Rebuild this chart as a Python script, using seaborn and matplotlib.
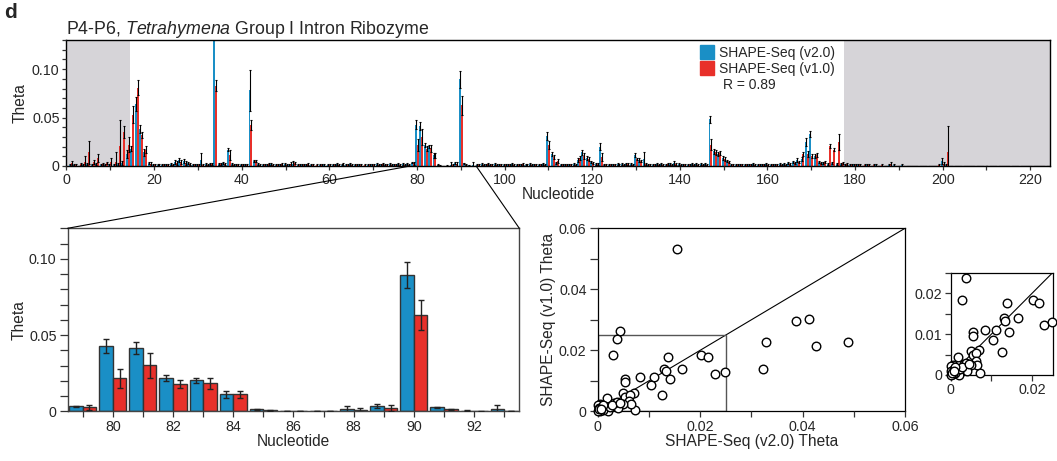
import numpy as np
import pandas as pd
import matplotlib
matplotlib.use("Agg")
import matplotlib.pyplot as plt
import seaborn as sns
from matplotlib.patches import ConnectionPatch, Rectangle
from matplotlib.lines import Line2D
from matplotlib.ticker import MultipleLocator, FuncFormatter

# ---------------- data ----------------
nucleotides = list(range(1, 225))

theta_v2 = [
    0.001, 0.001, 0.000, 0.001, 0.002, 0.001, 0.002, 0.001, 0.001, 0.001,
    0.001, 0.002, 0.003, 0.012, 0.018, 0.064, 0.038, 0.014, 0.003, 0.001,
    0.001, 0.001, 0.001, 0.002, 0.004, 0.006, 0.005, 0.003, 0.001, 0.001,
    0.006, 0.002, 0.002, 0.140, 0.002, 0.003, 0.017, 0.002, 0.001, 0.001,
    0.001, 0.078, 0.005, 0.002, 0.001, 0.001, 0.002, 0.001, 0.001, 0.002,
    0.001, 0.002, 0.001, 0.001, 0.001, 0.001, 0.000, 0.001, 0.001, 0.001,
    0.001, 0.002, 0.001, 0.001, 0.002, 0.001, 0.001, 0.000, 0.001, 0.001,
    0.002, 0.001, 0.001, 0.002, 0.001, 0.002, 0.002, 0.002, 0.0033, 0.0428,
    0.0415, 0.0216, 0.0203, 0.0111, 0.0013, 0.0, 0.0003, 0.0013, 0.0033, 0.0895,
    0.0026, 0.0005, 0.0015, 0.001, 0.002, 0.001, 0.001, 0.002, 0.001, 0.001,
    0.001, 0.002, 0.001, 0.001, 0.001, 0.002, 0.001, 0.001, 0.002, 0.031,
    0.012, 0.003, 0.001, 0.001, 0.001, 0.002, 0.006, 0.014, 0.008, 0.004,
    0.002, 0.020, 0.001, 0.001, 0.001, 0.002, 0.002, 0.002, 0.002, 0.011,
    0.006, 0.007, 0.001, 0.001, 0.002, 0.002, 0.001, 0.002, 0.003, 0.002,
    0.001, 0.001, 0.002, 0.002, 0.002, 0.002, 0.048, 0.015, 0.012, 0.008,
    0.005, 0.001, 0.001, 0.001, 0.001, 0.001, 0.002, 0.001, 0.001, 0.002,
    0.001, 0.001, 0.002, 0.002, 0.003, 0.004, 0.006, 0.007, 0.025, 0.033,
    0.010, 0.004, 0.003, 0.002, 0.003, 0.002, 0.002, 0.001, 0.001, 0.001,
    0.001, 0.000, 0.001, 0.000, 0.001, 0.000, 0.000, 0.001, 0.001, 0.000,
    0.001, 0.000, 0.000, 0.000, 0.000, 0.000, 0.000, 0.000, 0.000, 0.005,
    0.001, 0.000, 0.000, 0.000, 0.000, 0.000, 0.000, 0.000, 0.000, 0.000,
    0.000, 0.000, 0.000, 0.000, 0.000, 0.000, 0.000, 0.000, 0.000, 0.000,
    0.000, 0.000, 0.000, 0.000,
]

theta_v1 = [
    0.003, 0.001, 0.002, 0.004, 0.014, 0.004, 0.008, 0.002, 0.003, 0.004,
    0.004, 0.021, 0.035, 0.022, 0.053, 0.081, 0.032, 0.017, 0.002, 0.001,
    0.001, 0.001, 0.001, 0.001, 0.003, 0.004, 0.003, 0.002, 0.001, 0.001,
    0.001, 0.001, 0.002, 0.083, 0.002, 0.002, 0.011, 0.001, 0.001, 0.001,
    0.001, 0.042, 0.005, 0.001, 0.001, 0.002, 0.001, 0.001, 0.002, 0.001,
    0.002, 0.003, 0.001, 0.001, 0.002, 0.001, 0.001, 0.001, 0.000, 0.001,
    0.001, 0.001, 0.002, 0.001, 0.001, 0.001, 0.001, 0.001, 0.001, 0.001,
    0.001, 0.002, 0.001, 0.001, 0.001, 0.001, 0.001, 0.001, 0.0026, 0.0216,
    0.0301, 0.0177, 0.0183, 0.0111, 0.0007, 0.0, 0.0, 0.0007, 0.0022, 0.0629,
    0.0013, 0.0, 0.0, 0.001, 0.001, 0.002, 0.001, 0.001, 0.001, 0.001,
    0.001, 0.001, 0.001, 0.002, 0.001, 0.001, 0.001, 0.001, 0.001, 0.022,
    0.009, 0.005, 0.001, 0.001, 0.001, 0.001, 0.008, 0.010, 0.007, 0.003,
    0.002, 0.009, 0.001, 0.001, 0.001, 0.001, 0.001, 0.002, 0.001, 0.007,
    0.005, 0.002, 0.001, 0.001, 0.001, 0.001, 0.002, 0.001, 0.002, 0.001,
    0.001, 0.001, 0.001, 0.001, 0.001, 0.001, 0.022, 0.014, 0.013, 0.007,
    0.004, 0.001, 0.001, 0.001, 0.001, 0.001, 0.001, 0.001, 0.001, 0.001,
    0.001, 0.001, 0.001, 0.001, 0.002, 0.003, 0.004, 0.012, 0.012, 0.010,
    0.011, 0.003, 0.004, 0.021, 0.017, 0.025, 0.003, 0.002, 0.001, 0.001,
    0.001, 0.001, 0.001, 0.001, 0.000, 0.001, 0.000, 0.002, 0.000, 0.000,
    0.000, 0.000, 0.000, 0.000, 0.000, 0.000, 0.000, 0.000, 0.001, 0.002,
    0.014, 0.000, 0.000, 0.000, 0.000, 0.000, 0.000, 0.000, 0.000, 0.000,
    0.000, 0.000, 0.000, 0.000, 0.000, 0.000, 0.000, 0.000, 0.000, 0.000,
    0.000, 0.000, 0.000, 0.000,
]

err_v2 = [
    0.001, 0.001, 0.000, 0.001, 0.001, 0.001, 0.001, 0.001, 0.001, 0.001,
    0.001, 0.001, 0.002, 0.004, 0.003, 0.007, 0.004, 0.004, 0.001, 0.001,
    0.001, 0.001, 0.001, 0.001, 0.002, 0.002, 0.002, 0.001, 0.001, 0.001,
    0.007, 0.001, 0.001, 0.010, 0.001, 0.001, 0.002, 0.001, 0.001, 0.001,
    0.001, 0.021, 0.001, 0.001, 0.001, 0.001, 0.001, 0.001, 0.001, 0.001,
    0.001, 0.003, 0.001, 0.001, 0.001, 0.001, 0.000, 0.001, 0.001, 0.001,
    0.001, 0.001, 0.001, 0.001, 0.001, 0.001, 0.001, 0.000, 0.001, 0.001,
    0.001, 0.001, 0.001, 0.001, 0.001, 0.001, 0.001, 0.001, 0.0005, 0.0048,
    0.0040, 0.0020, 0.0016, 0.0024, 0.0004, 0.0, 0.0002, 0.0024, 0.0013, 0.0087,
    0.0004, 0.0003, 0.0026, 0.001, 0.001, 0.001, 0.001, 0.001, 0.001, 0.001,
    0.001, 0.001, 0.001, 0.001, 0.001, 0.001, 0.001, 0.001, 0.001, 0.004,
    0.002, 0.001, 0.001, 0.001, 0.001, 0.001, 0.002, 0.003, 0.002, 0.001,
    0.001, 0.004, 0.001, 0.001, 0.001, 0.001, 0.001, 0.001, 0.001, 0.002,
    0.002, 0.007, 0.001, 0.001, 0.001, 0.001, 0.001, 0.001, 0.002, 0.001,
    0.001, 0.001, 0.001, 0.001, 0.001, 0.001, 0.004, 0.003, 0.002, 0.002,
    0.001, 0.001, 0.001, 0.001, 0.001, 0.001, 0.001, 0.001, 0.001, 0.001,
    0.001, 0.001, 0.001, 0.001, 0.001, 0.001, 0.002, 0.002, 0.004, 0.003,
    0.002, 0.001, 0.001, 0.001, 0.001, 0.001, 0.001, 0.001, 0.001, 0.001,
    0.001, 0.000, 0.001, 0.000, 0.001, 0.000, 0.000, 0.001, 0.001, 0.000,
    0.001, 0.000, 0.000, 0.000, 0.000, 0.000, 0.000, 0.000, 0.000, 0.003,
    0.001, 0.000, 0.000, 0.000, 0.000, 0.000, 0.000, 0.000, 0.000, 0.000,
    0.000, 0.000, 0.000, 0.000, 0.000, 0.000, 0.000, 0.000, 0.000, 0.000,
    0.000, 0.000, 0.000, 0.000,
]

err_v1 = [
    0.002, 0.001, 0.001, 0.006, 0.012, 0.002, 0.004, 0.001, 0.001, 0.004,
    0.010, 0.026, 0.006, 0.008, 0.009, 0.008, 0.003, 0.004, 0.002, 0.001,
    0.001, 0.001, 0.001, 0.001, 0.002, 0.002, 0.002, 0.001, 0.001, 0.001,
    0.001, 0.001, 0.001, 0.006, 0.001, 0.001, 0.005, 0.001, 0.001, 0.001,
    0.001, 0.005, 0.001, 0.001, 0.001, 0.001, 0.001, 0.001, 0.001, 0.001,
    0.002, 0.001, 0.001, 0.001, 0.001, 0.001, 0.001, 0.001, 0.000, 0.001,
    0.001, 0.001, 0.001, 0.001, 0.001, 0.001, 0.001, 0.001, 0.001, 0.001,
    0.001, 0.001, 0.001, 0.001, 0.001, 0.001, 0.001, 0.001, 0.0015, 0.0062,
    0.0080, 0.0027, 0.0036, 0.0024, 0.0004, 0.0, 0.0, 0.0013, 0.0018, 0.0098,
    0.0003, 0.0003, 0.0, 0.001, 0.001, 0.001, 0.001, 0.001, 0.001, 0.001,
    0.001, 0.001, 0.001, 0.001, 0.001, 0.001, 0.001, 0.001, 0.001, 0.004,
    0.002, 0.002, 0.001, 0.001, 0.001, 0.001, 0.002, 0.003, 0.002, 0.001,
    0.001, 0.004, 0.001, 0.001, 0.001, 0.001, 0.001, 0.001, 0.001, 0.001,
    0.001, 0.001, 0.001, 0.001, 0.001, 0.001, 0.001, 0.001, 0.001, 0.001,
    0.001, 0.001, 0.001, 0.001, 0.001, 0.001, 0.006, 0.003, 0.002, 0.002,
    0.001, 0.001, 0.001, 0.001, 0.001, 0.001, 0.001, 0.001, 0.001, 0.001,
    0.001, 0.001, 0.001, 0.001, 0.001, 0.001, 0.001, 0.002, 0.003, 0.002,
    0.002, 0.001, 0.001, 0.002, 0.002, 0.008, 0.001, 0.001, 0.001, 0.001,
    0.001, 0.001, 0.001, 0.001, 0.000, 0.001, 0.000, 0.002, 0.000, 0.000,
    0.000, 0.000, 0.000, 0.000, 0.000, 0.000, 0.000, 0.000, 0.001, 0.002,
    0.027, 0.000, 0.000, 0.000, 0.000, 0.000, 0.000, 0.000, 0.000, 0.000,
    0.000, 0.000, 0.000, 0.000, 0.000, 0.000, 0.000, 0.000, 0.000, 0.000,
    0.000, 0.000, 0.000, 0.000,
]

# scatter: SHAPE-Seq v2.0 theta (x) vs v1.0 theta (y)
scatter_v2 = [0.0155, 0.0044, 0.0038, 0.0029, 0.0137, 0.0201, 0.0216, 0.0130,
              0.0133, 0.0165, 0.0229, 0.0249, 0.0142, 0.0083, 0.0110, 0.0104,
              0.0054, 0.0054, 0.0126, 0.0388, 0.0413, 0.0426, 0.0328, 0.0489,
              0.0323, 0.0018, 0.0070, 0.0050, 0.0054, 0.0063, 0.0062, 0.0072,
              0.0064, 0.0049, 0.0040, 0.0032, 0.0038, 0.0021, 0.0016, 0.0010,
              0.0005, 0.0001, 0.0002, 0.0005, 0.0009, 0.0023, 0.0027, 0.0044,
              0.0001, 0.0011, 0.0003, 0.0007]
scatter_v1 = [0.0533, 0.0263, 0.0236, 0.0183, 0.0177, 0.0183, 0.0177, 0.0138,
              0.0133, 0.0140, 0.0121, 0.0129, 0.0105, 0.0111, 0.0111, 0.0086,
              0.0105, 0.0095, 0.0055, 0.0295, 0.0301, 0.0215, 0.0226, 0.0226,
              0.0140, 0.0045, 0.0061, 0.0059, 0.0048, 0.0054, 0.0033, 0.0005,
              0.0024, 0.0024, 0.0010, 0.0026, 0.0030, 0.0001, 0.0013, 0.0004,
              0.0024, 0.0021, 0.0010, 0.0002, 0.0015, 0.0015, 0.0020, 0.0028,
              0.0000, 0.0020, 0.0006, 0.0009]

series_labels = ["SHAPE-Seq (v2.0)", "SHAPE-Seq (v1.0)"]
correlation_text = "R = 0.89"
zoom_range = (78.5, 93.5)
scatter_box = 0.025
unprobed_left = (0, 14.5)
unprobed_right = (177.5, 224.5)

# ---------------- style ----------------
sns.set_style("ticks")
plt.rcParams["font.family"] = ["Liberation Sans", "DejaVu Sans"]
plt.rcParams["mathtext.fontset"] = "custom"
plt.rcParams["mathtext.rm"] = "Liberation Sans"
plt.rcParams["mathtext.it"] = "Liberation Sans:italic"
plt.rcParams["axes.linewidth"] = 1.0

BLUE = "#1a8fc6"
RED = "#e8302a"
GRAY_BG = "#d6d4d8"
palette = {series_labels[0]: BLUE, series_labels[1]: RED}

TICK_FS = 10.3
LABEL_FS = 11.2

df = pd.DataFrame({
    "nt": nucleotides * 2,
    "theta": theta_v2 + theta_v1,
    "err": err_v2 + err_v1,
    "series": [series_labels[0]] * len(nucleotides) + [series_labels[1]] * len(nucleotides),
})

BAR_W = 0.9

def fmt_theta(v, pos):
    return "0" if abs(v) < 1e-12 else f"{v:.2f}"

fig = plt.figure(figsize=(10.57, 4.61), dpi=100)
ax_top = fig.add_axes([0.0629, 0.640, 0.9305, 0.273])
ax_bar = fig.add_axes([0.064, 0.1078, 0.4273, 0.397])
ax_sc = fig.add_axes([0.5655, 0.1078, 0.2907, 0.397])
ax_in = fig.add_axes([0.8994, 0.1866, 0.0965, 0.222])


def draw_bars(ax, data, edge, lw, elw, cap, ecolor):
    sns.barplot(data=data, x="nt", y="theta", hue="series",
                hue_order=series_labels, palette=palette, native_scale=True,
                width=BAR_W, errorbar=None, ax=ax, legend=False,
                edgecolor=edge, linewidth=lw, saturation=1)
    for i, lab in enumerate(series_labels):
        sub = data[data["series"] == lab]
        off = (i - 0.5) * BAR_W / 2
        ax.errorbar(sub["nt"] + off, sub["theta"], yerr=sub["err"], fmt="none",
                    ecolor=ecolor, elinewidth=elw, capsize=cap, capthick=elw,
                    zorder=5)


# ---- top panel ----
ax_top.axvspan(*unprobed_left, color=GRAY_BG, lw=0, zorder=0)
ax_top.axvspan(*unprobed_right, color=GRAY_BG, lw=0, zorder=0)
draw_bars(ax_top, df, "none", 0, 0.8, 0.8, "black")
ax_top.set_xlim(0, 224.5)
ax_top.set_ylim(0, 0.13)
ax_top.xaxis.set_major_locator(MultipleLocator(20))
ax_top.xaxis.set_minor_locator(MultipleLocator(10))
ax_top.yaxis.set_major_locator(MultipleLocator(0.05))
ax_top.yaxis.set_minor_locator(MultipleLocator(0.01))
ax_top.yaxis.set_major_formatter(FuncFormatter(fmt_theta))
ax_top.xaxis.set_major_formatter(FuncFormatter(lambda v, p: f"{int(v)}"))
ax_top.set_xlabel("Nucleotide", fontsize=LABEL_FS, labelpad=0)
ax_top.set_ylabel("Theta", fontsize=LABEL_FS, labelpad=3)
ax_top.set_title("P4-P6, $\\mathit{Tetrahymena}$ Group I Intron Ribozyme",
                 loc="left", fontsize=12.8, pad=3)
handles = [Line2D([0], [0], marker="s", color="none", markerfacecolor=c,
                  markeredgecolor=c, markersize=10) for c in (BLUE, RED)]
leg = ax_top.legend(handles, series_labels, loc="upper left",
                    bbox_to_anchor=(0.634, 1.03), frameon=False, fontsize=10,
                    handlelength=1.0, handletextpad=0.4, labelspacing=0.15,
                    borderpad=0.2)
ax_top.text(0.667, 0.64, correlation_text, transform=ax_top.transAxes,
            fontsize=10, va="center", ha="left")

# ---- zoomed bar panel ----
sub = df[(df["nt"] >= zoom_range[0]) & (df["nt"] <= zoom_range[1])]
draw_bars(ax_bar, sub, "#333333", 1.0, 1.0, 2.5, "#222222")
ax_bar.set_xlim(*zoom_range)
ax_bar.set_ylim(0, 0.12)
ax_bar.xaxis.set_major_locator(MultipleLocator(2))
ax_bar.xaxis.set_minor_locator(MultipleLocator(1))
ax_bar.xaxis.set_major_formatter(FuncFormatter(lambda v, p: f"{int(v)}"))
ax_bar.yaxis.set_major_locator(MultipleLocator(0.05))
ax_bar.yaxis.set_minor_locator(MultipleLocator(0.01))
ax_bar.yaxis.set_major_formatter(FuncFormatter(fmt_theta))
ax_bar.set_xlabel("Nucleotide", fontsize=LABEL_FS, labelpad=0)
ax_bar.set_ylabel("Theta", fontsize=LABEL_FS, labelpad=2)
ax_bar.tick_params(axis="y", which="both", length=6)
ax_bar.tick_params(axis="x", which="both", length=4.5)
for s in ax_bar.spines.values():
    s.set_color("#444444")

# connection lines between top panel and zoom panel
for xa, xb in ((zoom_range[0], 0), (zoom_range[1], 1)):
    con = ConnectionPatch(xyA=(xa, 0), coordsA=ax_top.transData,
                          xyB=(xb, 1), coordsB=ax_bar.transAxes,
                          color="black", lw=0.8)
    fig.add_artist(con)

# ---- scatter ----
sc_df = pd.DataFrame({"v2": scatter_v2, "v1": scatter_v1})
in_df = sc_df[(sc_df["v2"] <= scatter_box) & (sc_df["v1"] <= scatter_box)]
for ax, lim, d in ((ax_sc, 0.06, sc_df), (ax_in, scatter_box, in_df)):
    ax.axline((0, 0), slope=1, color="black", lw=0.8, zorder=1)
    sns.scatterplot(data=d, x="v2", y="v1", ax=ax, s=38, color="white",
                    edgecolor="black", linewidth=1.0, zorder=3, clip_on=False)
    ax.set_xlim(0, lim)
    ax.set_ylim(0, lim)
    for s in ax.spines.values():
        s.set_visible(True)
        s.set_color("black")
        s.set_linewidth(0.9)

ax_sc.add_patch(Rectangle((0, 0), scatter_box, scatter_box, fill=False,
                          ec="#555555", lw=1.0, zorder=2))
ax_sc.xaxis.set_major_locator(MultipleLocator(0.02))
ax_sc.xaxis.set_minor_locator(MultipleLocator(0.01))
ax_sc.yaxis.set_major_locator(MultipleLocator(0.02))
ax_sc.yaxis.set_minor_locator(MultipleLocator(0.01))
ax_sc.xaxis.set_major_formatter(FuncFormatter(fmt_theta))
ax_sc.yaxis.set_major_formatter(FuncFormatter(fmt_theta))
ax_sc.set_xlabel("SHAPE-Seq (v2.0) Theta", fontsize=LABEL_FS, labelpad=0)
ax_sc.set_ylabel("SHAPE-Seq (v1.0) Theta", fontsize=LABEL_FS, labelpad=2)
ax_sc.tick_params(axis="y", which="both", length=6)
ax_sc.tick_params(axis="x", which="both", length=4.5)

ax_in.set_xticks([0, 0.01, 0.02])
ax_in.set_xticklabels(["0", "", "0.02"])
ax_in.set_yticks([0, 0.01, 0.02])
ax_in.yaxis.set_minor_locator(MultipleLocator(0.005))
ax_in.yaxis.set_major_formatter(FuncFormatter(fmt_theta))
ax_in.set_xlabel("")
ax_in.set_ylabel("")
ax_in.tick_params(axis="both", which="both", length=4)

for ax in (ax_top, ax_bar, ax_sc, ax_in):
    ax.tick_params(axis="both", which="major", labelsize=TICK_FS, pad=2,
                   width=0.9, color="#333333")
    ax.tick_params(axis="both", which="minor", width=0.9, color="#333333")
    ax.set_axisbelow(False)
ax_top.tick_params(axis="both", which="both", length=3)
for s in ax_top.spines.values():
    s.set_visible(True)
    s.set_color("black")
for s in ax_bar.spines.values():
    s.set_visible(True)

fig.text(0.004, 0.972, "d", fontsize=15, fontweight="bold", va="center", ha="left")

fig.savefig("out.png", dpi=100)
